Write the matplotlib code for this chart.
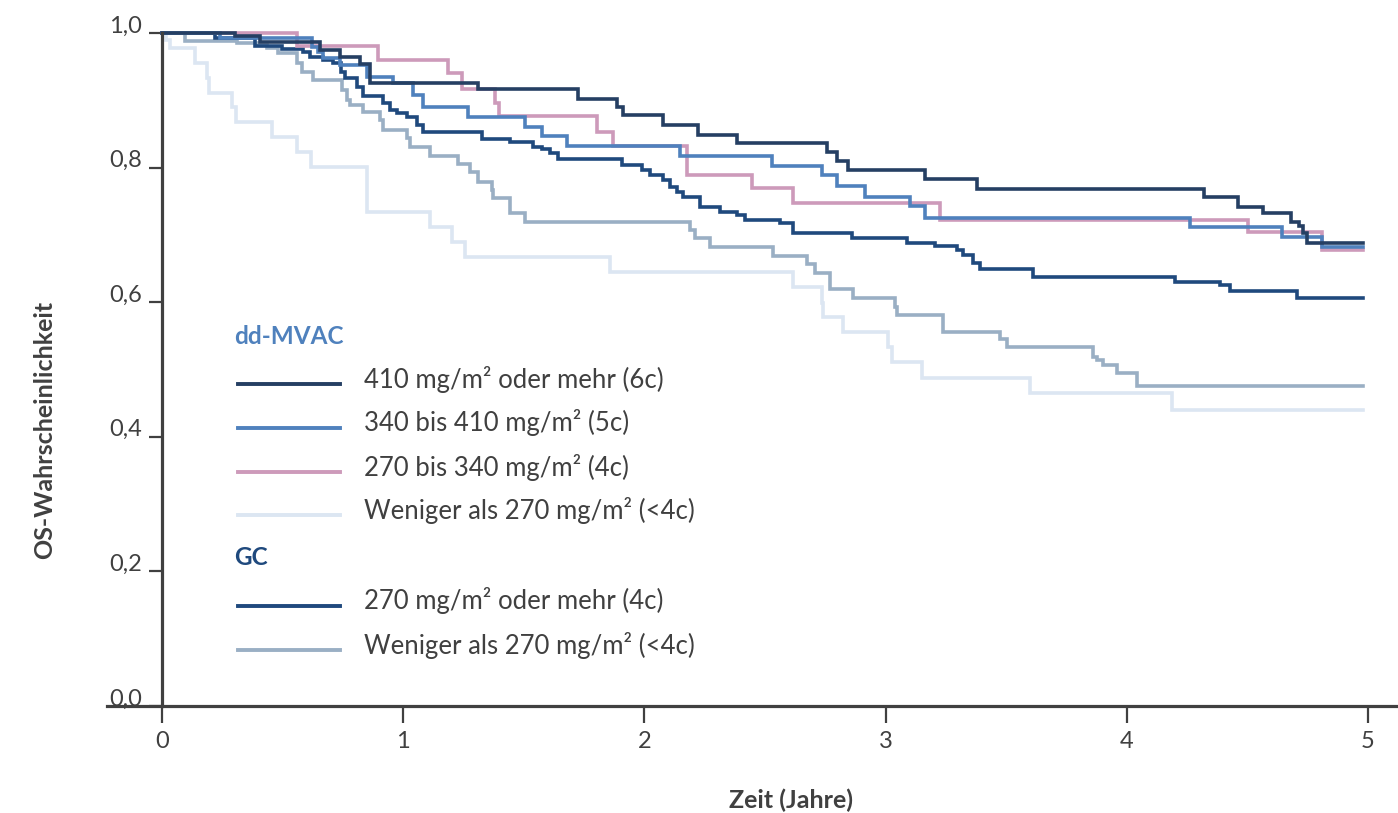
import matplotlib
matplotlib.use("Agg")
import matplotlib.pyplot as plt
import matplotlib.transforms as mtransforms
from matplotlib.lines import Line2D

plt.rcParams['font.family'] = ['Lato', 'DejaVu Sans']

# ---------------- data ----------------
END_T = 4.98

t_mvac_6c = [0, 0.303, 0.406, 0.655, 0.738, 0.821, 0.862, 1.310, 1.725, 1.886, 1.911, 2.077, 2.222,
             2.384, 2.757, 2.799, 2.844, 3.163, 3.379, 4.320, 4.461, 4.565, 4.681, 4.714, 4.730, 4.747]
s_mvac_6c = [1.0, 0.9955, 0.9866, 0.9747, 0.9643, 0.9539, 0.9257, 0.9168, 0.9019, 0.8900, 0.8782, 0.8633,
             0.8484, 0.8366, 0.8232, 0.8098, 0.7964, 0.7831, 0.7682, 0.7563, 0.7415, 0.7325, 0.7192,
             0.7132, 0.7028, 0.6880]

t_mvac_5c = [0, 0.240, 0.622, 0.647, 0.667, 0.738, 0.850, 0.958, 1.041, 1.082, 1.269, 1.505, 1.575,
             1.679, 2.148, 2.529, 2.736, 2.799, 2.915, 3.101, 3.163, 4.262, 4.643, 4.809]
s_mvac_5c = [1.0, 0.9926, 0.9792, 0.9718, 0.9629, 0.9525, 0.9346, 0.9257, 0.9079, 0.8900, 0.8752,
             0.8603, 0.8470, 0.8321, 0.8172, 0.8024, 0.7890, 0.7727, 0.7563, 0.7429, 0.7251, 0.7117,
             0.6969, 0.6820]

t_mvac_4c = [0, 0.560, 0.896, 1.186, 1.244, 1.381, 1.397, 1.803, 1.870, 2.177, 2.446, 2.616, 3.226,
             4.502, 4.809]
s_mvac_4c = [1.0, 0.9807, 0.9599, 0.9406, 0.9168, 0.8960, 0.8767, 0.8529, 0.8321, 0.7890, 0.7697,
             0.7474, 0.7221, 0.7043, 0.6776]

t_mvac_lt4c = [0, 0.017, 0.033, 0.137, 0.187, 0.195, 0.290, 0.307, 0.456, 0.560, 0.618, 0.850, 1.111,
               1.202, 1.256, 1.857, 2.616, 2.736, 2.740, 2.823, 3.010, 3.027, 3.151, 3.599, 4.187]
s_mvac_lt4c = [1.0, 0.9896, 0.9777, 0.9554, 0.9331, 0.9108, 0.8900, 0.8678, 0.8455, 0.8232, 0.8009,
               0.7340, 0.7117, 0.6895, 0.6672, 0.6449, 0.6226, 0.5988, 0.5780, 0.5557, 0.5334,
               0.5111, 0.4874, 0.4651, 0.4398]

t_gc_4c = [0, 0.220, 0.386, 0.498, 0.585, 0.614, 0.667, 0.709, 0.742, 0.759, 0.808, 0.833, 0.916,
           0.945, 0.974, 1.016, 1.057, 1.082, 1.327, 1.443, 1.538, 1.575, 1.609, 1.642, 1.907, 1.990,
           2.023, 2.077, 2.106, 2.135, 2.160, 2.231, 2.313, 2.384, 2.417, 2.562, 2.616, 2.861, 3.089,
           3.205, 3.296, 3.321, 3.362, 3.391, 3.611, 4.200, 4.386, 4.428, 4.706]
s_gc_4c = [1.0, 0.9926, 0.9807, 0.9762, 0.9718, 0.9643, 0.9599, 0.9554, 0.9421, 0.9331, 0.9198,
           0.9064, 0.8960, 0.8856, 0.8811, 0.8752, 0.8633, 0.8529, 0.8425, 0.8380, 0.8306, 0.8276,
           0.8217, 0.8128, 0.8039, 0.7964, 0.7890, 0.7816, 0.7712, 0.7637, 0.7563, 0.7415, 0.7340,
           0.7296, 0.7221, 0.7177, 0.7028, 0.6954, 0.6880, 0.6835, 0.6776, 0.6701, 0.6583, 0.6494,
           0.6374, 0.6300, 0.6256, 0.6166, 0.6062]

t_gc_lt4c = [0, 0.095, 0.311, 0.394, 0.435, 0.481, 0.560, 0.580, 0.626, 0.746, 0.767, 0.779, 0.833,
             0.904, 0.916, 1.016, 1.028, 1.111, 1.227, 1.277, 1.310, 1.368, 1.372, 1.443, 1.505, 2.189,
             2.210, 2.272, 2.533, 2.674, 2.707, 2.769, 2.865, 3.039, 3.047, 3.238, 3.474, 3.503, 3.860,
             3.876, 3.901, 3.959, 4.042]
s_gc_lt4c = [1.0, 0.9881, 0.9851, 0.9822, 0.9777, 0.9703, 0.9554, 0.9421, 0.9302, 0.9153, 0.9004,
             0.8930, 0.8826, 0.8707, 0.8559, 0.8440, 0.8306, 0.8172, 0.8053, 0.7935, 0.7786, 0.7667,
             0.7548, 0.7325, 0.7192, 0.7073, 0.6954, 0.6820, 0.6686, 0.6568, 0.6434, 0.6196, 0.6062,
             0.5929, 0.5810, 0.5557, 0.5453, 0.5334, 0.5186, 0.5141, 0.5067, 0.4948, 0.4755]

x_ticks = [0, 1, 2, 3, 4, 5]
x_ticklabels = ["0", "1", "2", "3", "4", "5"]
y_ticks = [0.0, 0.2, 0.4, 0.6, 0.8, 1.0]
y_ticklabels = ["0,0", "0,2", "0,4", "0,6", "0,8", "1,0"]

group_mvac = "dd-MVAC"
group_gc = "GC"
labels_mvac = ["410 mg/m² oder mehr (6c)", "340 bis 410 mg/m² (5c)",
               "270 bis 340 mg/m² (4c)", "Weniger als 270 mg/m² (<4c)"]
labels_gc = ["270 mg/m² oder mehr (4c)", "Weniger als 270 mg/m² (<4c)"]

C_6C = "#253f63"
C_5C = "#4f81bd"
C_4C = "#cd9aba"
C_LT4C = "#dce6f2"
C_GC4 = "#1f497d"
C_GCLT4 = "#9aafc4"
AX_C = "#404040"

# ---------------- figure ----------------
W, H = 1398, 813
fig = plt.figure(figsize=(W / 100, H / 100), dpi=100)

def px_x(p):
    return p / W

def px_y(p):
    return 1 - p / H

ax_left, ax_right, ax_top, ax_bottom = 107, 1398, 30, 706
ax = fig.add_axes([px_x(ax_left), px_y(ax_bottom), (ax_right - ax_left) / W, (ax_bottom - ax_top) / H])

unit = 241.2
ax.set_xlim(-(162 - ax_left) / unit, (ax_right - 162) / unit)
ax.set_ylim(0, 1 + 3 / 673)

lw = 2.6
series = [
    (t_mvac_lt4c, s_mvac_lt4c, C_LT4C),
    (t_gc_lt4c, s_gc_lt4c, C_GCLT4),
    (t_gc_4c, s_gc_4c, C_GC4),
    (t_mvac_4c, s_mvac_4c, C_4C),
    (t_mvac_5c, s_mvac_5c, C_5C),
    (t_mvac_6c, s_mvac_6c, C_6C),
]
for t, s, c in series:
    ax.step(list(t) + [END_T], list(s) + [s[-1]], where='post', color=c, lw=lw,
            solid_joinstyle='miter', clip_on=False)

for sp in ['top', 'right']:
    ax.spines[sp].set_visible(False)
ax.spines['left'].set_position(('data', 0))
ax.spines['left'].set_bounds(0, 1.0)
for sp in ['left', 'bottom']:
    ax.spines[sp].set_color(AX_C)
    ax.spines[sp].set_linewidth(2.3)

ax.set_xticks(x_ticks)
ax.set_xticklabels(x_ticklabels)
ax.set_yticks(y_ticks)
ax.set_yticklabels(y_ticklabels)
ax.tick_params(axis='x', direction='out', length=12, width=1.6, color=AX_C,
               labelsize=17, labelcolor=AX_C, pad=6)
ax.tick_params(axis='y', direction='out', length=9.5, width=1.6, color=AX_C,
               labelsize=17, labelcolor=AX_C, pad=5)

# y tick labels sit slightly above their ticks in the reference
offset = mtransforms.ScaledTranslation(0, 9 / 100, fig.dpi_scale_trans)
for lab in ax.get_yticklabels():
    lab.set_transform(lab.get_transform() + offset)

# axis titles
fig.text(px_x(45), px_y(430), "OS-Wahrscheinlichkeit", rotation=90, ha='center', va='center',
         fontsize=18, fontweight='bold', color=AX_C)
fig.text(px_x(791), px_y(800), "Zeit (Jahre)", ha='center', va='center',
         fontsize=18, fontweight='bold', color=AX_C)

# custom legend
fig.text(px_x(234), px_y(337), group_mvac, ha='left', va='center', fontsize=17.5,
         fontweight='bold', color=C_5C)
fig.text(px_x(234), px_y(557), group_gc, ha='left', va='center', fontsize=17.5,
         fontweight='bold', color=C_GC4)

leg_rows = [(384, labels_mvac[0], C_6C), (428, labels_mvac[1], C_5C), (472, labels_mvac[2], C_4C),
            (515, labels_mvac[3], C_LT4C), (606, labels_gc[0], C_GC4), (650, labels_gc[1], C_GCLT4)]
for yy, lab, c in leg_rows:
    fig.add_artist(Line2D([px_x(238), px_x(340)], [px_y(yy), px_y(yy)], color=c, lw=2.8,
                          transform=fig.transFigure))
    fig.text(px_x(364), px_y(yy - 5), lab, ha='left', va='center', fontsize=18.5, color=AX_C)

fig.savefig("out.png", dpi=100)
